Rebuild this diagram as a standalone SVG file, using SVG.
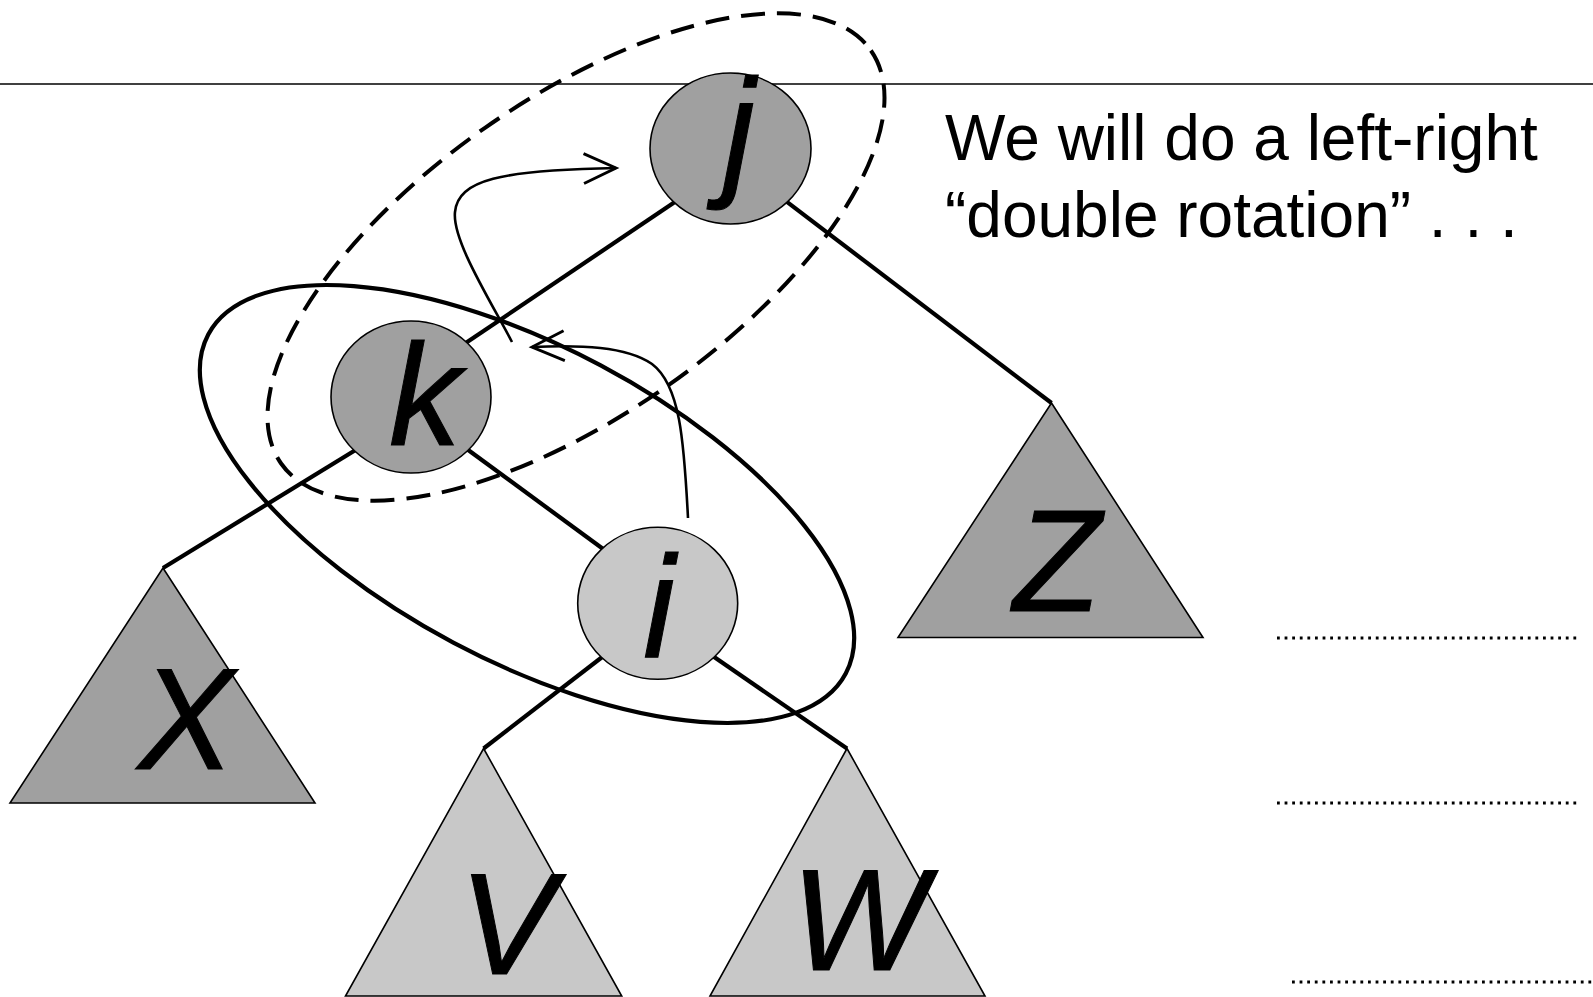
<svg xmlns="http://www.w3.org/2000/svg" width="1593" height="997" viewBox="0 0 1593 997">
<defs>
<style>
.node-dark{fill:#A0A0A0;stroke:#000;stroke-width:1.6}
.node-light{fill:#C8C8C8;stroke:#000;stroke-width:1.6}
.edge{stroke:#000;stroke-width:4.2;fill:none;stroke-linecap:butt}
.lbl{font-family:"Liberation Sans",Arial,sans-serif;font-style:italic;font-size:144px;fill:#000;stroke:#000;stroke-width:1;text-anchor:middle}
.note{font-family:"Liberation Sans",Arial,sans-serif;font-size:64px;fill:#000}
.dots{stroke:#000;stroke-width:2.8;stroke-dasharray:2.8 4.8;fill:none}
.curve{stroke:#000;stroke-width:2.6;fill:none}
</style>
<marker id="openArrow" markerUnits="userSpaceOnUse" markerWidth="40" markerHeight="40" viewBox="-32 -16 36 32" refX="0" refY="0" orient="auto">
<path d="M -29 -13.5 L 0 0 L -29 13.5" fill="none" stroke="#000" stroke-width="2.6"/>
</marker>
</defs>
<rect x="0" y="0" width="1593" height="997" fill="#fff"/>
<line x1="0" y1="84" x2="1593" y2="84" stroke="#000" stroke-width="1.6"/>
<g id="connectors">
<line class="edge" x1="683" y1="196.4" x2="459" y2="347.6"/>
<line class="edge" x1="778.7" y1="195.7" x2="1051.5" y2="403"/>
<line class="edge" x1="362.5" y1="445.8" x2="163" y2="568"/>
<line class="edge" x1="460" y1="444" x2="610" y2="554"/>
<line class="edge" x1="610" y1="651" x2="483.6" y2="748.5"/>
<line class="edge" x1="705.8" y1="651.3" x2="847" y2="748.5"/>
</g>
<g id="tri-X"><polygon class="node-dark" points="163,568 315,803 10,803"/><text class="lbl" x="186" y="769">X</text></g>
<g id="tri-Z"><polygon class="node-dark" points="1051.5,403 1203,637.5 898,637.5"/><text class="lbl" x="1057" y="611">Z</text></g>
<g id="tri-V"><polygon class="node-light" points="483.6,748.5 621.7,996 345.5,996"/><text class="lbl" x="507" y="974">V</text></g>
<g id="tri-W"><polygon class="node-light" points="847,748.5 985,996 710,996"/><text class="lbl" x="859" y="970">W</text></g>
<g id="node-j"><ellipse class="node-dark" cx="730.5" cy="148.5" rx="80.5" ry="75.5"/><text class="lbl" x="739" y="180">j</text></g>
<g id="node-k"><ellipse class="node-dark" cx="411" cy="397" rx="80" ry="76"/><text class="lbl" x="425" y="445">k</text></g>
<g id="node-i"><ellipse class="node-light" cx="657.7" cy="603.3" rx="80" ry="76"/><text class="lbl" x="659" y="657">i</text></g>
<g id="groups">
<ellipse cx="576" cy="257" rx="360" ry="158" transform="rotate(-35 576 257)" fill="none" stroke="#000" stroke-width="4" stroke-dasharray="24 12"/>
<ellipse cx="527" cy="504" rx="361" ry="157" transform="rotate(28 527 504)" fill="none" stroke="#000" stroke-width="4.2"/>
</g>
<g id="arrows">
<path class="curve" d="M 512 342 C 490 300, 452 240, 455 212 C 458 180, 500 170, 616 168" marker-end="url(#openArrow)"/>
<path class="curve" d="M 688 518 C 684 440, 680 385, 652 364 C 626 346, 580 345, 532 347" marker-end="url(#openArrow)"/>
</g>
<g id="note">
<text class="note" x="945" y="160">We will do a left-right</text>
<text class="note" x="945" y="237">“double rotation” . . .</text>
</g>
<g id="blanks">
<line class="dots" x1="1277" y1="638" x2="1581" y2="638"/>
<line class="dots" x1="1277" y1="803" x2="1581" y2="803"/>
<line class="dots" x1="1292" y1="982" x2="1593" y2="982"/>
</g>
</svg>
